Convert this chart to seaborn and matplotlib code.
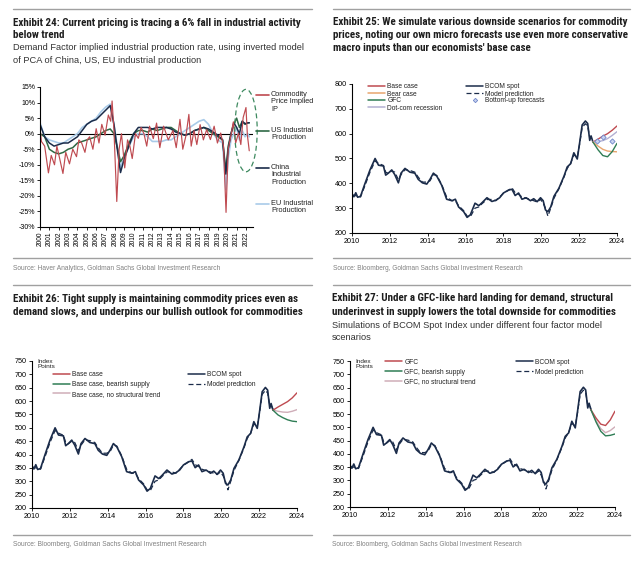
import matplotlib
matplotlib.use('Agg')
import matplotlib.pyplot as plt
import seaborn as sns
import pandas as pd
from matplotlib import font_manager
from matplotlib.lines import Line2D
from matplotlib.patches import Ellipse

# ---------------- data ----------------
# Exhibit 24: year-on-year industrial production (%)
red_t = [2000.0, 2000.15, 2000.5, 2000.9, 2001.2, 2001.55, 2001.8, 2002.1, 2002.45, 2002.75, 2003.15, 2003.5,
         2003.9, 2004.15, 2004.45, 2004.8, 2005.05, 2005.3, 2005.65, 2006.0, 2006.3, 2006.6, 2006.95, 2007.3,
         2007.55, 2007.7, 2007.9, 2008.2, 2008.45, 2008.7, 2009.05, 2009.35, 2009.6, 2009.85, 2010.2, 2010.5,
         2010.8, 2011.1, 2011.4, 2011.7, 2012.1, 2012.45, 2012.8, 2013.2, 2013.7, 2014.2, 2014.55, 2014.95,
         2015.25, 2015.6, 2015.9, 2016.15, 2016.45, 2016.75, 2017.1, 2017.45, 2017.8, 2018.2, 2018.6, 2018.95,
         2019.3, 2019.6, 2019.87, 2020.1, 2020.4, 2020.65, 2020.9, 2021.2, 2021.45, 2021.7, 2022.0, 2022.15, 2022.35]
commodity_ip = [2, -2.5, -4, -12.6, -7, -10, -4, -8, -12.8, -6, -9.7, -5, -7.4, -2, -3, -6, -2, -1, -5, 1.6,
                -3, 3, -0.5, 6, 4, 10.5, 1, -21.8, -5, 0, -11, -2, -4, -8, 0, -1.5, 2, 0, -4, 2.4, -1.6, 3.4,
                -4.5, 2.4, -2, 1, -4.5, 4.6, -5, -0.5, 6.2, -4, 1, -3.5, 2.9, -2, 1.3, -1.9, 2.4, -3, 0.2, -4,
                -25.3, -5, -0.5, 3.8, -3, 0.2, -3.5, 5.2, 8.4, -0.5, -5.5]
ip_t = [2000.0, 2000.5, 2001.0, 2001.5, 2002.0, 2002.5, 2003.0, 2003.5, 2004.0, 2004.5, 2005.0, 2005.5,
        2006.0, 2006.5, 2007.0, 2007.5, 2007.9, 2008.3, 2008.6, 2009.0, 2009.5, 2010.0, 2010.5, 2011.0,
        2011.5, 2012.0, 2012.5, 2013.0, 2013.5, 2014.0, 2014.5, 2015.0, 2015.5, 2016.0, 2016.5, 2017.0,
        2017.5, 2018.0, 2018.5, 2019.0, 2019.5, 2019.85, 2020.1, 2020.4, 2020.7, 2021.0, 2021.3, 2021.6,
        2021.9, 2022.2, 2022.35]
us_ip = [0, -1, -5, -6, -6.5, -6, -5, -4.5, -3, -2.5, -2, -1.5, -1, 0, 1, 1.5, 0, -5, -9, -7, -3,
         0, 1, 1, 0.5, 1.5, 1, 1.5, 2, 2, 1, 0, -0.5, 0, 1, 1.5, 2, 1, 0, -1, -2,
         -12, -4, 0, 3, 5, 2, 4, 3, 3.5, 3.5]
china_ip = [3, -1, -3, -4, -3.5, -3, -3, -2, -1, 1, 3, 4, 4.5, 6, 7.5, 9, 3, -6, -12.5, -8, -4,
            0, 2, 2, 2, 1.5, 2, 2, 2, 1.5, 0.5, 0, -0.5, 0, 1, 1.5, 2, 1.5, 0.5, -0.5, -2,
            -13, -5, 0, 3.5, 2, 0, 4, 3.2, 3.5, 3.5]
eu_ip = [3.5, -1, -2, -2.5, -3, -3, -2, -1, 0, 2, 3, 4, 5, 7, 8.5, 9.5, 3, -5, -11, -7, -4,
         -1, 0, 0, -1, -2.5, -2.5, -2.5, -2, -2, -1, 0, 1, 2, 3, 4, 4.5, 3, 0, -2, -3,
         -18, -8, -2, 0, 2, -2, 1, -1, 0, -1]
ip_years = list(range(2000, 2023))
ip_yticks = [15, 10, 5, 0, -5, -10, -15, -20, -25, -30]

# BCOM spot index and model prediction (Exhibits 25-27)
bcom_t = [2010.0, 2010.1, 2010.2, 2010.3, 2010.45, 2010.68, 2010.95, 2011.22, 2011.4, 2011.66, 2011.78, 2011.92,
          2012.1, 2012.26, 2012.45, 2012.59, 2012.8, 2013.06, 2013.32, 2013.5, 2013.72, 2013.95, 2014.12, 2014.3,
          2014.48, 2014.74, 2015.0, 2015.28, 2015.46, 2015.63, 2015.9, 2016.08, 2016.25, 2016.5, 2016.7, 2016.87,
          2017.13, 2017.39, 2017.6, 2017.8, 2018.0, 2018.27, 2018.45, 2018.62, 2018.8, 2018.98, 2019.2, 2019.43,
          2019.6, 2019.78, 2019.96, 2020.1, 2020.22, 2020.35, 2020.5, 2020.67, 2020.93, 2021.2, 2021.37, 2021.55,
          2021.72, 2021.9, 2022.02, 2022.16, 2022.33, 2022.45, 2022.56, 2022.63, 2022.73]
bcom_spot = [358, 346, 362, 344, 348, 398, 454, 500, 473, 470, 433, 441, 454, 435, 402, 441, 460, 445, 441, 416,
             402, 397, 416, 441, 429, 392, 336, 330, 336, 305, 286, 263, 273, 320, 310, 322, 342, 327, 332, 342,
             361, 373, 376, 351, 361, 336, 342, 330, 338, 326, 342, 330, 293, 286, 305, 348, 380, 429, 466, 479,
             523, 498, 560, 635, 651, 641, 573, 591, 566]
model_pred = [350, 352, 350, 348, 345, 390, 445, 490, 480, 472, 445, 440, 450, 445, 415, 435, 455, 452, 445, 425,
              405, 405, 410, 435, 432, 395, 345, 330, 330, 310, 290, 268, 265, 300, 305, 318, 335, 335, 330, 345,
              360, 372, 382, 362, 356, 345, 340, 335, 330, 325, 335, 320, 300, 268, 300, 340, 378, 425, 460, 480,
              515, 505, 555, 625, 640, 630, 585, 585, 570]

scen_t = [2022.73, 2023.0, 2023.25, 2023.5, 2023.75, 2024.0]
# Exhibit 25
e25_base = [566, 578, 590, 600, 614, 631]
e25_bear = [566, 550, 537, 530, 528, 527]
e25_gfc = [566, 535, 512, 507, 528, 561]
e25_dotcom = [566, 568, 572, 580, 593, 608]
bottom_up_t = [2022.93, 2023.24, 2023.72]
bottom_up_v = [570, 585, 570]
# Exhibit 26
e26_base = [566, 578, 588, 598, 612, 631]
e26_bearish = [566, 548, 538, 530, 525, 523]
e26_nostruct = [566, 562, 559, 558, 562, 568]
# Exhibit 27
e27_gfc = [566, 535, 512, 507, 528, 561]
e27_bearish = [566, 520, 485, 468, 470, 475]
e27_nostruct = [566, 525, 495, 480, 488, 502]

bcom_xticks = [2010, 2012, 2014, 2016, 2018, 2020, 2022, 2024]

# ---------------- style ----------------
sns.set_style('ticks')
names = {f.name for f in font_manager.fontManager.ttflist}
body = 'Liberation Sans' if 'Liberation Sans' in names else 'DejaVu Sans'
cond = next((n for n in ['Liberation Sans Narrow', 'Roboto Condensed', 'Open Sans Condensed'] if n in names), None)
plt.rcParams['font.family'] = [body, 'DejaVu Sans']
title_kw = dict(fontweight='bold', color='#1e1e1e')
if cond:
    title_kw['family'] = [cond, 'DejaVu Sans']
else:
    title_kw['family'] = ['DejaVu Sans']
    title_kw['fontstretch'] = 'condensed'

NAVY = '#1b2c4a'
RED = '#bf4a50'
ORANGE = '#e8a56e'
GREEN = '#2f7d55'
LAV = '#b3b0d2'
PINK = '#cfadb8'
LBLUE = '#a9cbe9'
USG = '#2f6a45'

W, H = 640, 567
fig = plt.figure(figsize=(6.4, 5.67), dpi=100)
fig.patch.set_facecolor('white')
renderer = fig.canvas.get_renderer()


def fx(px):
    return px / W


def fy(py):
    return 1 - py / H


def text_block(x, ys, lines, fit_idx, fit_w, **kw):
    ts = [fig.text(fx(x), fy(y), s, ha='left', va='center', **kw) for y, s in zip(ys, lines)]
    w = ts[fit_idx].get_window_extent(renderer).width
    size = ts[fit_idx].get_fontsize() * fit_w / w
    for t in ts:
        t.set_fontsize(size)
    return ts


def rule(x0, x1, y):
    fig.add_artist(Line2D([fx(x0), fx(x1)], [fy(y), fy(y)], color='#a0a0a0', lw=1.0))


def add_ax(l, r, t, b):
    ax = fig.add_axes([fx(l), fy(b), (r - l) / W, (b - t) / H])
    ax.set_facecolor('white')
    for s in ['top', 'right']:
        ax.spines[s].set_visible(False)
    for s in ['left', 'bottom']:
        ax.spines[s].set_color('black')
        ax.spines[s].set_linewidth(0.8)
    ax.tick_params(axis='both', direction='out', length=2, width=0.6, labelsize=5.2, pad=1.5, colors='black')
    ax.set_xlabel('')
    ax.set_ylabel('')
    return ax


def line(ax, t, v, color, lw=1.0, **kw):
    sns.lineplot(x=t, y=v, ax=ax, color=color, lw=lw, **kw)


# ---------------- text & rules ----------------
rule(13, 312, 9); rule(333, 630, 9); rule(13, 312, 258); rule(333, 630, 258)
rule(13, 312, 285); rule(333, 630, 285); rule(13, 312, 535); rule(333, 630, 535)

text_block(13, [23, 35], ['Exhibit 24: Current pricing is tracing a 6% fall in industrial activity',
                          'below trend'], 0, 290, fontsize=8, **title_kw)
text_block(13, [48, 61], ['Demand Factor implied industrial production rate, using inverted model',
                          'of PCA of China, US, EU industrial production'], 0, 292, fontsize=7, color='#333333')
text_block(333, [22, 35, 48], ['Exhibit 25: We simulate various downside scenarios for commodity',
                               'prices, noting our own micro forecasts use even more conservative',
                               "macro inputs than our economists' base case"], 0, 294, fontsize=8, **title_kw)
text_block(13, [299, 312], ['Exhibit 26: Tight supply is maintaining commodity prices even as',
                            'demand slows, and underpins our bullish outlook for commodities'], 1, 291,
           fontsize=8, **title_kw)
text_block(332, [298, 312], ['Exhibit 27: Under a GFC-like hard landing for demand, structural',
                             'underinvest in supply lowers the total downside for commodities'], 1, 285,
           fontsize=8, **title_kw)
text_block(332, [325, 338], ['Simulations of BCOM Spot Index under different four factor model',
                             'scenarios'], 0, 270, fontsize=7, color='#333333')
text_block(13, [268], ['Source: Haver Analytics, Goldman Sachs Global Investment Research'], 0, 212,
           fontsize=5, color='#808080')
text_block(333, [268], ['Source: Bloomberg, Goldman Sachs Global Investment Research'], 0, 195,
           fontsize=5, color='#808080')
text_block(13, [545], ['Source: Bloomberg, Goldman Sachs Global Investment Research'], 0, 197,
           fontsize=5, color='#808080')
text_block(332, [544], ['Source: Bloomberg, Goldman Sachs Global Investment Research'], 0, 195,
           fontsize=5, color='#808080')

# ---------------- Exhibit 24 ----------------
ax1 = add_ax(40, 253, 87, 227)
ax1.axhline(0, color='black', lw=0.8, zorder=1)
line(ax1, ip_t, eu_ip, LBLUE, lw=1.2)
line(ax1, ip_t, us_ip, USG, lw=1.1)
line(ax1, ip_t, china_ip, NAVY, lw=1.1)
line(ax1, red_t, commodity_ip, RED, lw=0.85)
ax1.add_patch(Ellipse((2022.0, 1.0), width=2.4, height=26.5, fill=False, ls=(0, (4, 2.5)), ec='#3e8a60',
                      lw=0.9, clip_on=False, zorder=5))
ax1.set_xlim(2000, 2022.75)
ax1.set_ylim(-30, 15)
ax1.set_yticks(ip_yticks)
ax1.set_yticklabels([f'{v}%' for v in ip_yticks])
ax1.set_xticks(ip_years)
ax1.set_xticklabels([str(y) for y in ip_years], rotation=90)
ax1.tick_params(axis='x', labelsize=4.8)
ax1.tick_params(axis='y', labelsize=5.0)

leg24 = [('Commodity\nPrice Implied\nIP', RED, 95), ('US Industrial\nProduction', USG, 131),
         ('China\nIndustrial\nProduction', NAVY, 168), ('EU Industrial\nProduction', LBLUE, 204)]
for lab, col, yy in leg24:
    fig.add_artist(Line2D([fx(256), fx(269)], [fy(yy), fy(yy)], color=col, lw=1.2))
    fig.text(fx(271), fy(yy - 4.3), lab, ha='left', va='top', fontsize=5.3, color='#222222', linespacing=1.1)


def bcom_axes(ax, ylo, yhi, step):
    line(ax, bcom_t, model_pred, NAVY, lw=0.9, linestyle=(0, (4, 2.2)))
    line(ax, bcom_t, bcom_spot, NAVY, lw=1.2)
    ax.set_xlim(2010, 2024)
    ax.set_ylim(ylo, yhi)
    ax.set_yticks(list(range(ylo, yhi + 1, step)))
    ax.set_xticks(bcom_xticks)
    ax.set_xticklabels([str(y) for y in bcom_xticks])


def legend_col(ax, entries, x, ytop, spacing):
    handles = []
    labels = []
    for lab, h in entries:
        handles.append(h)
        labels.append(lab)
    leg = ax.legend(handles, labels, loc='upper left', bbox_to_anchor=(fx(x), fy(ytop)),
                    bbox_transform=fig.transFigure, frameon=False, fontsize=4.8, handlelength=2.6,
                    handletextpad=0.3, labelspacing=spacing, borderpad=0, borderaxespad=0)
    for t in leg.get_texts():
        t.set_color('#222222')
    ax.add_artist(leg)


def lh(color, **kw):
    return Line2D([], [], color=color, lw=kw.pop('lw', 1.1), **kw)


# ---------------- Exhibit 25 ----------------
ax2 = add_ax(352, 617, 84, 233)
bcom_axes(ax2, 200, 800, 100)
line(ax2, scen_t, e25_base, RED)
line(ax2, scen_t, e25_dotcom, LAV)
line(ax2, scen_t, e25_bear, ORANGE)
line(ax2, scen_t, e25_gfc, GREEN)
sns.scatterplot(x=bottom_up_t, y=bottom_up_v, ax=ax2, marker='D', s=7, color='#c9d3f0',
                edgecolor='#6f86c9', linewidth=0.6, zorder=6)
legend_col(ax2, [('Base case', lh(RED)), ('Bear case', lh(ORANGE)), ('GFC', lh(GREEN)),
                 ('Dot-com recession', lh(LAV))], 368, 83.5, 0.0)
legend_col(ax2, [('BCOM spot', lh(NAVY)), ('Model prediction', lh(NAVY, lw=0.9, ls=(0, (4, 2.2)))),
                 ('Bottom-up forecasts', Line2D([], [], ls='none', marker='D', ms=2.2, mfc='#c9d3f0',
                                                mec='#6f86c9', mew=0.6))], 466, 83.5, 0.0)

# ---------------- Exhibit 26 ----------------
ax3 = add_ax(32, 297, 361, 508)
bcom_axes(ax3, 200, 750, 50)
line(ax3, scen_t, e26_nostruct, PINK)
line(ax3, scen_t, e26_base, RED)
line(ax3, scen_t, e26_bearish, GREEN)
fig.text(fx(37), fy(364), 'Index\nPoints', ha='left', va='center', fontsize=4.6, color='#222222', linespacing=1.0)
legend_col(ax3, [('Base case', lh(RED)), ('Base case, bearish supply', lh(GREEN)),
                 ('Base case, no structural trend', lh(PINK))], 53, 371.5, 0.38)
legend_col(ax3, [('BCOM spot', lh(NAVY)), ('Model prediction', lh(NAVY, lw=0.9, ls=(0, (4, 2.2))))],
           188, 371.5, 0.38)

# ---------------- Exhibit 27 ----------------
ax4 = add_ax(350, 615, 361, 507)
bcom_axes(ax4, 200, 750, 50)
line(ax4, scen_t, e27_nostruct, PINK)
line(ax4, scen_t, e27_gfc, RED)
line(ax4, scen_t, e27_bearish, GREEN)
fig.text(fx(355), fy(364), 'Index\nPoints', ha='left', va='center', fontsize=4.6, color='#222222', linespacing=1.0)
legend_col(ax4, [('GFC', lh(RED)), ('GFC, bearish supply', lh(GREEN)),
                 ('GFC, no structural trend', lh(PINK))], 385, 358.5, 0.45)
legend_col(ax4, [('BCOM spot', lh(NAVY)), ('Model prediction', lh(NAVY, lw=0.9, ls=(0, (4, 2.2))))],
           516, 358.5, 0.45)

for ax in [ax1, ax2, ax3, ax4]:
    if ax.get_legend() is not None:
        ax.get_legend().remove()

fig.savefig('out.png', dpi=100, facecolor='white')
